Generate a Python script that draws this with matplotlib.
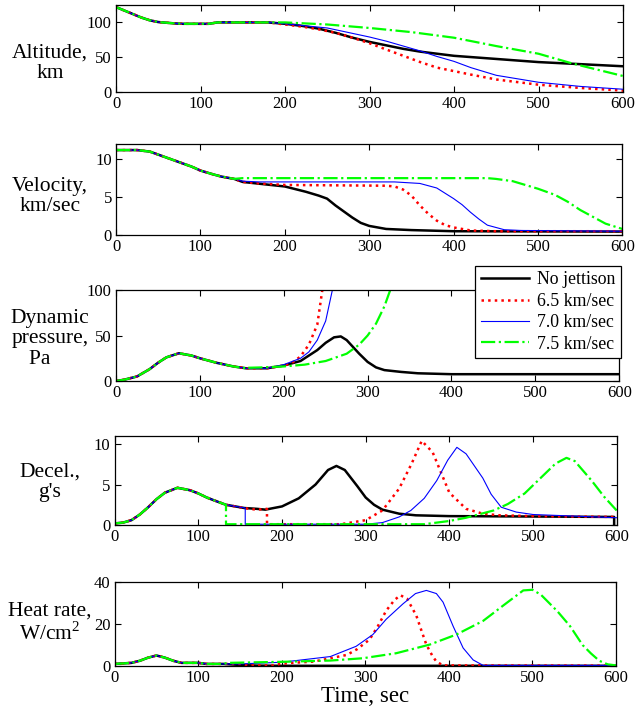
import numpy as np
import matplotlib
matplotlib.use('Agg')
import matplotlib.pyplot as plt

plt.rcParams['font.family'] = 'Liberation Serif'
plt.rcParams['mathtext.fontset'] = 'custom'
plt.rcParams['mathtext.rm'] = 'Liberation Serif'

# series labels
labels = ['No jettison', '6.5 km/sec', '7.0 km/sec', '7.5 km/sec']

# ---------- Altitude, km ----------
alt_t_common = [0, 10, 20, 30, 40, 50, 60, 70, 80, 110, 120, 180]
alt_common = [122, 117, 112, 107, 103, 100.5, 99.5, 98.5, 98, 98, 100, 100]
alt_t_black = [180, 190, 200, 220, 240, 260, 280, 300, 320, 340, 360, 380, 400, 450, 500, 550, 600]
alt_black = [100, 99, 98, 95, 91, 85, 78, 72, 67, 62, 58, 55, 52, 47.5, 43, 40, 37]
alt_t_red = [180, 200, 220, 240, 260, 280, 300, 320, 340, 350, 360, 380, 400, 420, 450, 500, 550, 600]
alt_red = [100, 97, 94, 90, 85, 78, 70, 61, 52, 47.5, 43, 35, 30, 25, 18, 10.5, 5.8, 2]
alt_t_blue = [180, 200, 250, 300, 320, 340, 360, 380, 400, 420, 450, 500, 550, 600]
alt_blue = [100, 98, 92, 79, 73, 66, 59, 51, 44, 35, 24, 14, 8, 4]
alt_t_green = [180, 200, 250, 300, 350, 400, 450, 500, 540, 570, 600]
alt_green = [100, 100, 97, 92, 86, 78, 66, 55, 41, 32, 23]

# ---------- Velocity, km/sec ----------
vel_t_common = [0, 25, 40, 50, 60, 75, 90, 100, 115, 125, 140]
vel_common = [11.2, 11.2, 11.0, 10.6, 10.2, 9.6, 9.0, 8.5, 8.0, 7.7, 7.4]
vel_t_black = [140, 150, 175, 200, 225, 240, 250, 260, 270, 280, 290, 300, 320, 350, 400, 600]
vel_black = [7.4, 7.0, 6.7, 6.4, 5.7, 5.2, 4.8, 3.9, 3.1, 2.3, 1.6, 1.2, 0.8, 0.65, 0.5, 0.45]
vel_t_red = [140, 150, 170, 200, 320, 330, 340, 350, 360, 370, 380, 390, 400, 420, 450, 600]
vel_red = [7.4, 7.0, 6.8, 6.6, 6.5, 6.4, 6.0, 5.2, 3.9, 2.8, 1.9, 1.3, 1.0, 0.6, 0.5, 0.5]
vel_t_blue = [140, 150, 170, 330, 360, 380, 400, 410, 420, 430, 440, 460, 480, 600]
vel_blue = [7.4, 7.1, 7.0, 7.0, 6.8, 6.2, 4.8, 4.0, 3.0, 2.1, 1.3, 0.7, 0.6, 0.5]
vel_t_green = [140, 150, 440, 450, 470, 500, 520, 535, 550, 565, 580, 600]
vel_green = [7.4, 7.5, 7.5, 7.4, 7.1, 6.1, 5.3, 4.4, 3.3, 2.4, 1.5, 0.8]

# ---------- Dynamic pressure, Pa ----------
q_t_common = [0, 10, 25, 40, 50, 60, 75, 90, 100, 120, 140, 155]
q_common = [0, 1.5, 5, 13, 20, 26, 30.5, 28, 25, 20, 16, 14]
q_t_black = [155, 180, 200, 220, 240, 250, 260, 268, 275, 290, 300, 310, 320, 340, 360, 400, 600]
q_black = [14, 14, 17, 22, 34, 42, 48, 49, 45, 30, 21, 15, 12, 10, 8.5, 7.5, 7.5]
q_t_red = [155, 180, 200, 210, 220, 230, 240, 246]
q_red = [14, 14, 17, 20, 27, 40, 62, 100]
q_t_blue = [155, 180, 200, 220, 230, 240, 250, 258]
q_blue = [14, 14, 18, 25, 32, 45, 66, 100]
q_t_green = [155, 175, 200, 225, 250, 275, 290, 300, 310, 320, 327]
q_green = [14.5, 15, 16, 18, 22, 30, 40, 50, 63, 82, 100]

# ---------- Decel., g's ----------
g_t_common = [0, 10, 20, 30, 40, 50, 60, 75, 90, 100, 110, 120, 133]
g_common = [0.2, 0.3, 0.6, 1.3, 2.2, 3.2, 4.0, 4.6, 4.3, 3.9, 3.4, 3.0, 2.5]
g_t_black = [133, 155, 170, 180, 200, 220, 240, 255, 265, 275, 290, 300, 310, 320, 340, 360, 400, 597, 597]
g_black = [2.5, 2.1, 2.0, 1.9, 2.3, 3.3, 5.0, 6.8, 7.3, 6.8, 4.8, 3.4, 2.5, 1.9, 1.4, 1.2, 1.1, 1.0, 0]
g_t_red = [133, 155, 160, 170, 182, 182, 270, 300, 320, 340, 355, 367, 380, 390, 400, 420, 440, 460, 500, 600]
g_red = [2.5, 2.1, 2.0, 1.9, 2.0, 0.1, 0.1, 0.6, 1.8, 4.5, 7.6, 10.4, 9.0, 6.5, 4.0, 2.0, 1.4, 1.2, 1.1, 1.0]
g_t_blue = [133, 156, 156, 300, 320, 340, 354, 370, 385, 398, 409, 420, 440, 450, 462, 480, 500, 550, 600]
g_blue = [2.5, 2.1, 0.1, 0.1, 0.3, 1.0, 1.8, 3.3, 5.5, 8.0, 9.6, 8.8, 5.8, 3.8, 2.2, 1.6, 1.3, 1.1, 0.9]
g_t_green = [133, 133, 370, 400, 420, 453, 470, 490, 502, 515, 527, 540, 550, 570, 585, 600]
g_green = [2.5, 0.1, 0.1, 0.5, 0.9, 1.8, 2.6, 3.9, 5.1, 6.4, 7.6, 8.3, 7.9, 5.5, 3.5, 1.8]

# ---------- Heat rate, W/cm^2 ----------
h_t_common = [0, 20, 30, 40, 50, 60, 70, 80, 100, 110, 130]
h_common = [1.0, 1.5, 2.5, 4.0, 5.0, 4.0, 2.5, 1.5, 1.5, 1.0, 1.0]
h_t_black = [130, 150, 170, 200, 600]
h_black = [1.0, 0.5, 0.2, 0.1, 0.1]
h_t_red = [130, 150, 160, 190, 198, 220, 238, 258, 278, 290, 305, 315, 325, 335, 342, 350, 361, 367, 373, 380, 385, 393, 600]
h_red = [1.0, 1.0, 0.3, 0.3, 1.0, 1.7, 2.1, 3.7, 5.3, 8.0, 12.6, 19, 26.4, 31.5, 33.7, 32, 24, 17, 10.2, 5.0, 2.1, 0.3, 0.2]
h_t_blue = [130, 150, 200, 258, 289, 309, 325, 345, 360, 373, 385, 393, 405, 417, 429, 441, 600]
h_blue = [1.0, 1.0, 1.8, 4.5, 9.4, 15, 22.3, 29.6, 34.5, 36, 34.5, 30.4, 19, 8.6, 2.9, 0.3, 0.3]
h_t_green = [130, 135, 200, 258, 297, 337, 377, 409, 441, 465, 489, 500, 510, 530, 545, 560, 570, 580, 590, 600]
h_green = [1.0, 1.5, 2.0, 2.6, 3.7, 6.1, 10.2, 15, 21.5, 28.8, 36, 36.3, 34, 26, 19, 10, 6, 2.5, 0.8, 0.3]

xticks = [0, 100, 200, 300, 400, 500, 600]

panels = [
    ('Altitude,\nkm', [0, 125], [0, 50, 100],
     [(alt_t_black, alt_black), (alt_t_red, alt_red), (alt_t_blue, alt_blue), (alt_t_green, alt_green)],
     (alt_t_common, alt_common), [0.181, 0.8713, 0.791, 0.1217], 0.912),
    ('Velocity,\nkm/sec', [0, 12], [0, 5, 10],
     [(vel_t_black, vel_black), (vel_t_red, vel_red), (vel_t_blue, vel_blue), (vel_t_green, vel_green)],
     (vel_t_common, vel_common), [0.181, 0.6713, 0.790, 0.1273], 0.725),
    ('Dynamic\npressure,\nPa    ', [0, 100], [0, 50, 100],
     [(q_t_black, q_black), (q_t_red, q_red), (q_t_blue, q_blue), (q_t_green, q_green)],
     (q_t_common, q_common), [0.181, 0.4671, 0.785, 0.1273], 0.526),
    ('Decel.,\ng\'s', [0, 11], [0, 5, 10],
     [(g_t_black, g_black), (g_t_red, g_red), (g_t_blue, g_blue), (g_t_green, g_green)],
     (g_t_common, g_common), [0.179, 0.2657, 0.783, 0.1245], 0.325),
    ('Heat rate,\nW/cm$^2$', [0, 40], [0, 20, 40],
     [(h_t_black, h_black), (h_t_red, h_red), (h_t_blue, h_blue), (h_t_green, h_green)],
     (h_t_common, h_common), [0.179, 0.0685, 0.782, 0.1175], 0.128),
]

styles = [dict(color='k', ls='-', lw=1.8),
          dict(color='r', ls=':', lw=1.8),
          dict(color='b', ls='-', lw=0.8),
          dict(color=(0, 1, 0), ls='-.', lw=1.6)]

fig = plt.figure(figsize=(6.41, 7.15), dpi=100)
fs = 12

for i, (ylab, ylim, yticks, series, common, pos, ly) in enumerate(panels):
    ax = fig.add_axes(pos)
    handles = []
    for k, ((t, v), st) in enumerate(zip(series, styles)):
        tt = list(common[0]) + list(t)
        vv = list(common[1]) + list(v)
        h, = ax.plot(tt, vv, **st)
        handles.append(h)
    ax.set_xlim(0, 600)
    ax.set_ylim(ylim)
    ax.set_xticks(xticks)
    ax.set_yticks(yticks)
    ax.tick_params(direction='in', top=True, right=True, length=4, width=0.8,
                   labelsize=fs, pad=3)
    for s in ax.spines.values():
        s.set_linewidth(0.9)
    fig.text(0.078, ly, ylab, ha='center', va='center', fontsize=15.5,
             multialignment='center', linespacing=1.1)
    if i == 2:
        leg = fig.legend(handles, labels, loc='upper right',
                         bbox_to_anchor=(0.969, 0.628), fontsize=12.8,
                         frameon=True, fancybox=False, framealpha=1,
                         edgecolor='k', handlelength=2.7, borderpad=0.3,
                         labelspacing=0.25, handletextpad=0.5, borderaxespad=0)
        leg.get_frame().set_linewidth(0.9)
    if i == 4:
        ax.set_xlabel('Time, sec', fontsize=16.5, labelpad=0)

fig.savefig('out.png', dpi=100)
